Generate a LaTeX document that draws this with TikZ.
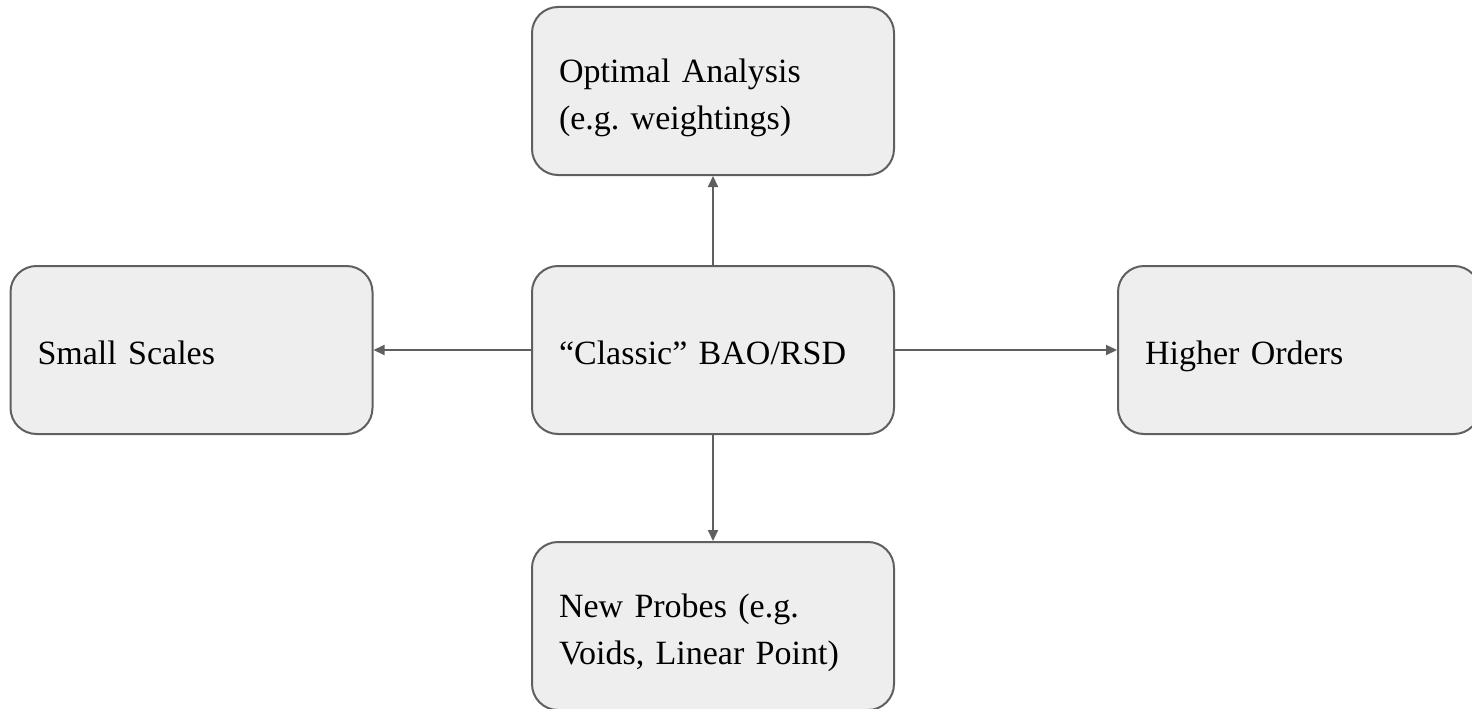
\documentclass[tikz,border=0pt]{standalone}
\usepackage{fontspec}
\setmainfont{Liberation Serif}
\usetikzlibrary{arrows.meta}

\definecolor{boxfill}{HTML}{EEEEEE}
\definecolor{boxline}{HTML}{5F5F5F}

\begin{document}
\frenchspacing
\begin{tikzpicture}[x=1pt,y=-1pt,
	topic/.style={draw=boxline,fill=boxfill,line width=2pt,rounded corners=26pt,
		minimum width=362pt,minimum height=168pt,inner xsep=27pt,
		text width=308pt,align=left,font=\fontsize{34}{47}\selectfont,
		execute at begin node=\rule{0pt}{44pt},execute at end node=\strut},
	link/.style={draw=boxline,line width=2pt,-{Triangle[length=11pt,width=10pt]}}]
	
	\useasboundingbox (0,0) rectangle (1472,709);
	
	\node[topic] (classic) at (713,350) {“Classic” BAO/RSD};
	\node[topic] (optimal) at (713,91) {Optimal Analysis\\(e.g. weightings)};
	\node[topic] (small) at (191.5,350) {Small Scales};
	\node[topic] (higher) at (1299,350) {Higher Orders};
	\node[topic] (probes) at (713,626) {New Probes (e.g.\\Voids, Linear Point)};
	
	\draw[link] (classic) -- (optimal);
	\draw[link] (classic) -- (small);
	\draw[link] (classic) -- (higher);
	\draw[link] (classic) -- (probes);
	
\end{tikzpicture}
\end{document}
